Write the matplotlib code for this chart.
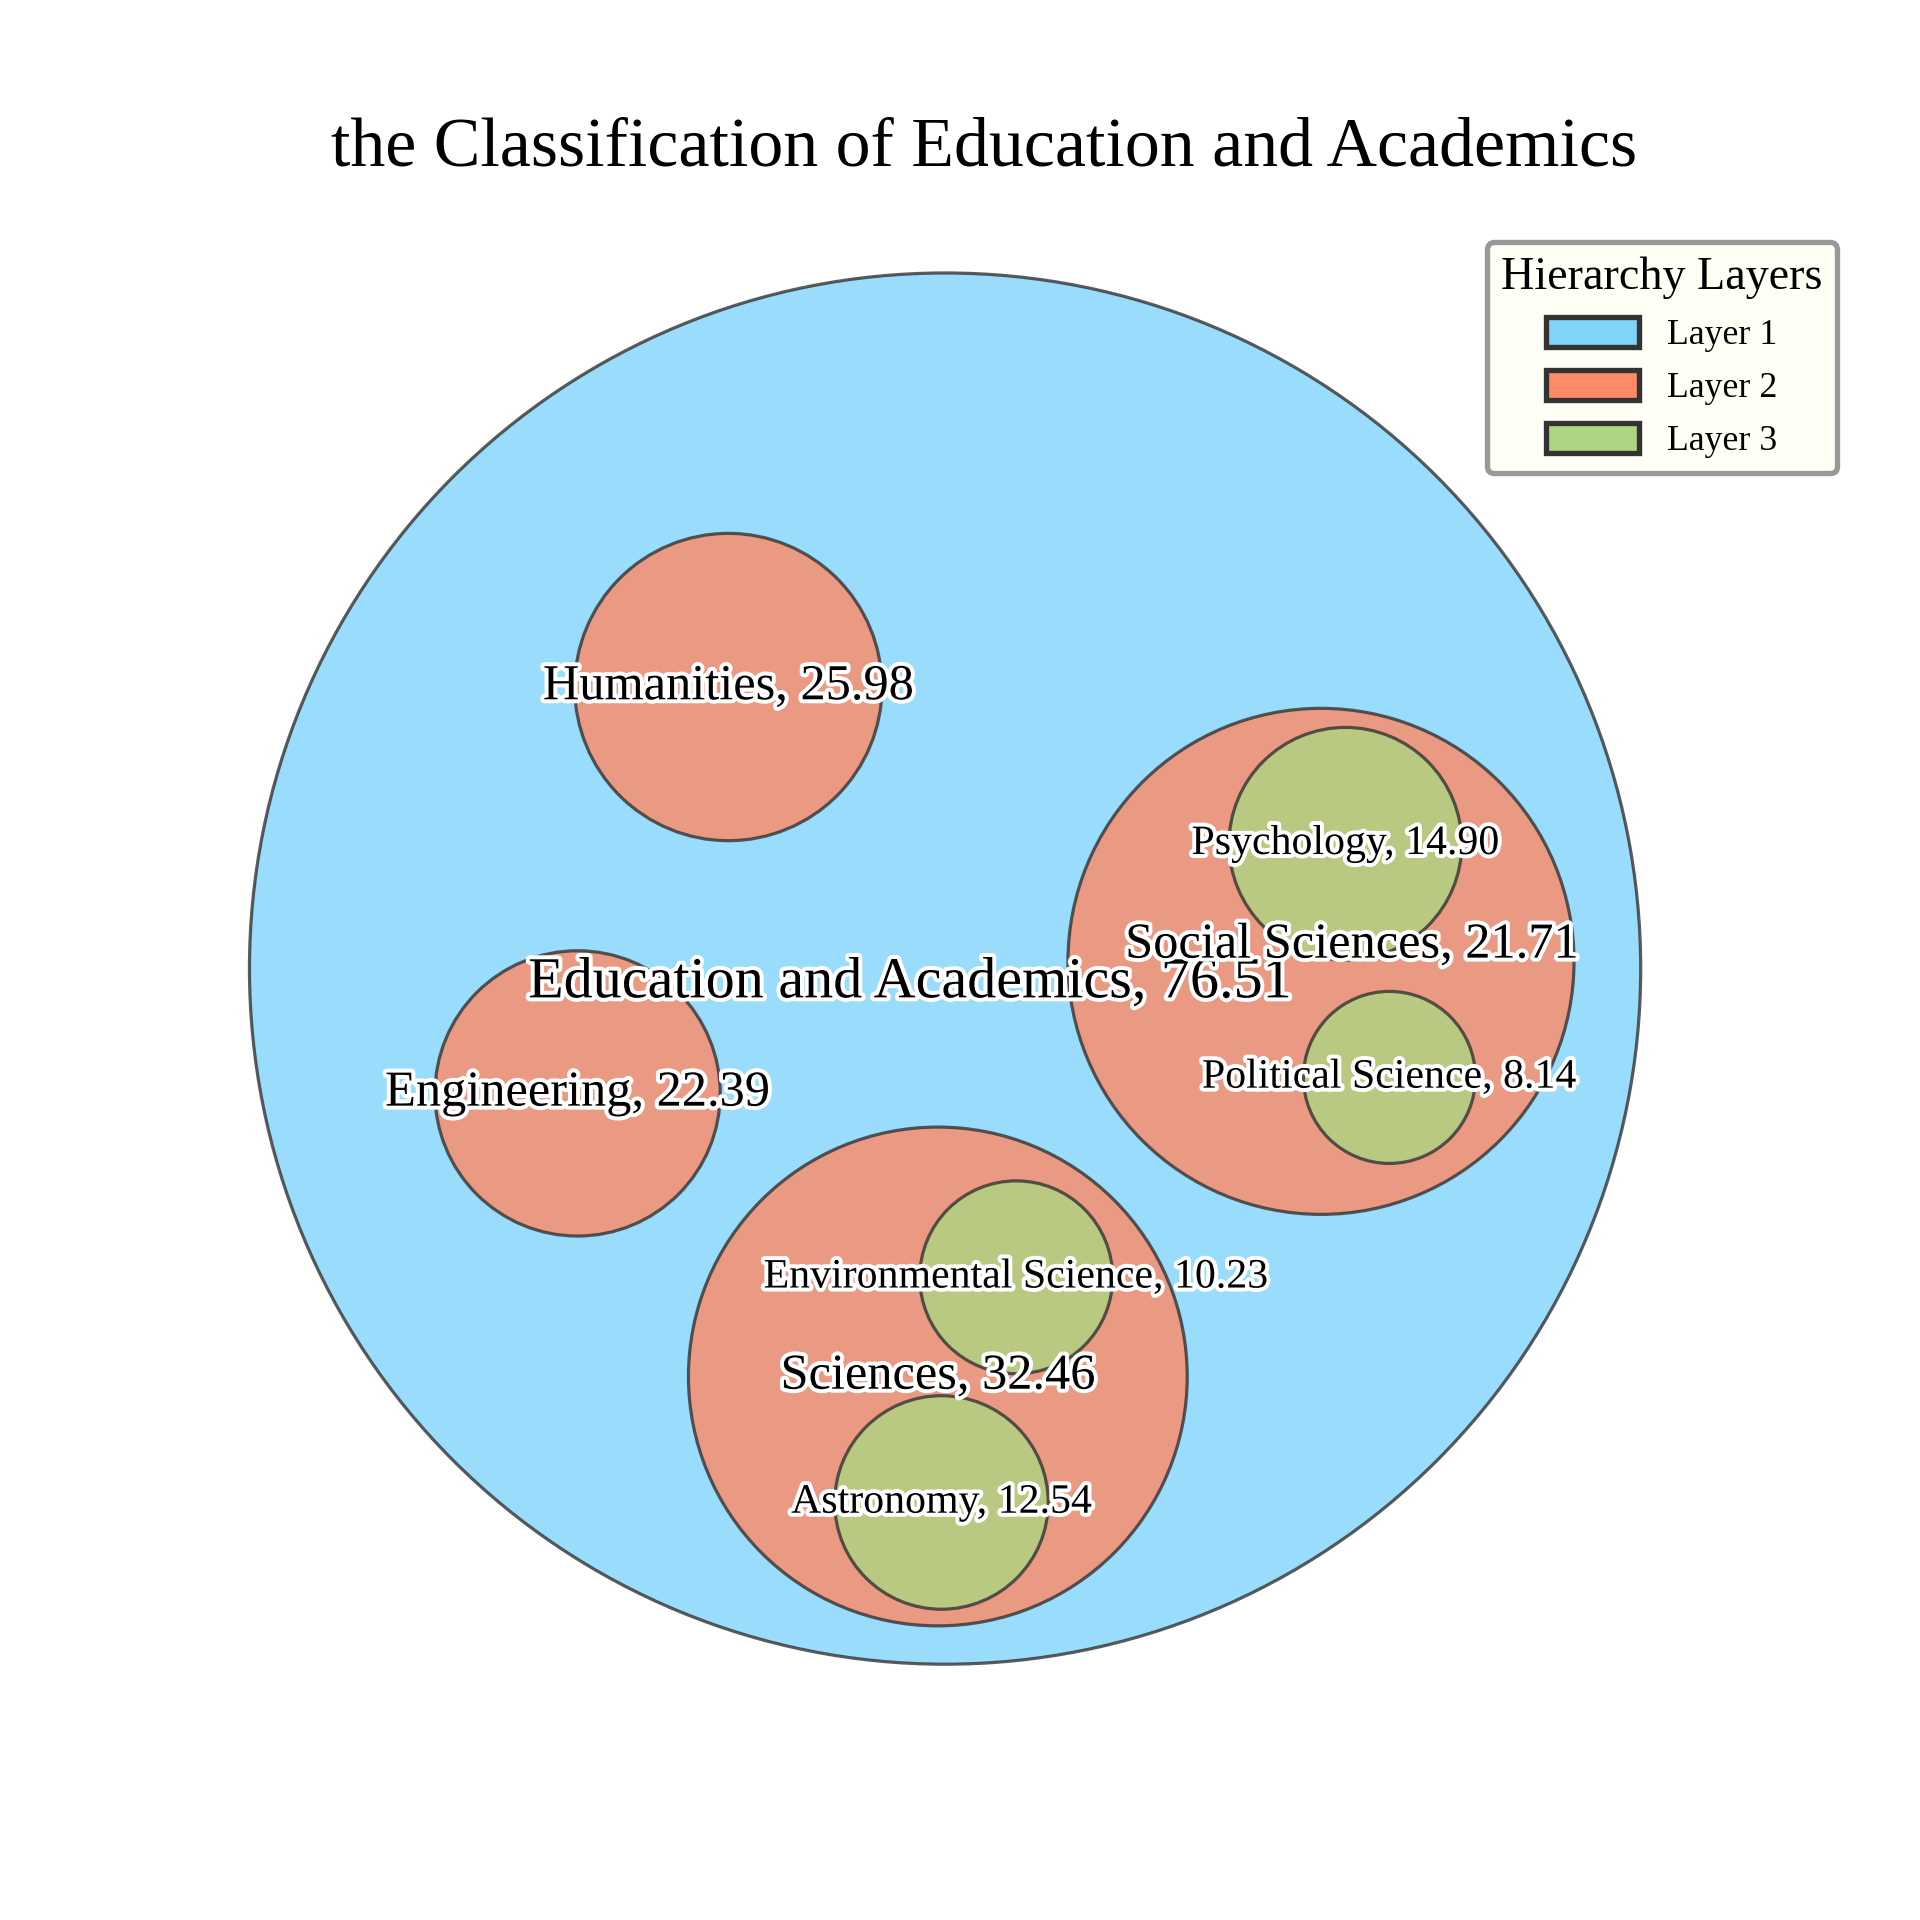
import numpy as np
import matplotlib.pyplot as plt
import matplotlib.patheffects as pe
from matplotlib.patches import Circle, Patch

plt.rcParams['font.family'] = ['Liberation Serif', 'DejaVu Serif']

# data
names = ['Education and Academics', 'Humanities', 'Social Sciences', 'Psychology',
         'Political Science', 'Engineering', 'Sciences', 'Environmental Science', 'Astronomy']
values = [76.51, 25.98, 21.71, 14.90, 8.14, 22.39, 32.46, 10.23, 12.54]
parents = [None, 0, 0, 2, 2, 0, 0, 6, 6]
layers = [1, 2, 2, 3, 3, 2, 2, 3, 3]

layer_colors = {1: '#81D4FA', 2: '#FF8A65', 3: '#AED581'}
label_sizes = {1: 21.8, 2: 18.9, 3: 15.7}

# layout (units of sqrt(value)): centres, packing pad, label nudges
centers = [(0, 0), (-7.19, 9.34), (12.47, 0.24), (13.28, 4.14), (14.74, -3.61),
           (-12.19, -4.14), (-0.24, -13.53), (2.36, -10.24), (-0.12, -17.71)]
pad = {1: 1.27, 2: 0.55}
label_shift = {0: (-1.16, -0.49), 2: (1.02, 0.53)}


def radius(i):
    kids = [j for j in range(len(names)) if parents[j] == i]
    if not kids:
        return np.sqrt(values[i])
    cx, cy = centers[i]
    ext = [np.hypot(centers[j][0] - cx, centers[j][1] - cy) + radius(j) for j in kids]
    return max(ext) + pad[layers[i]]


fig = plt.figure(figsize=(10, 10), dpi=192)
ax = fig.add_axes([0, 0, 1, 1])
ax.set_xlim(-31.35, 32.34)
ax.set_ylim(-31.56, 32.13)
ax.set_aspect('equal')
ax.axis('off')

for lay in [1, 2, 3]:
    for i in range(len(names)):
        if layers[i] != lay:
            continue
        c = Circle(centers[i], radius(i), facecolor=layer_colors[lay], edgecolor='#333333',
                   linewidth=1.2, alpha=0.8, zorder=lay)
        ax.add_patch(c)

for i in range(len(names)):
    dx, dy = label_shift.get(i, (0, 0))
    ax.text(centers[i][0] + dx, centers[i][1] + dy, f'{names[i]}, {values[i]:.2f}',
            ha='center', va='center', fontsize=label_sizes[layers[i]], zorder=10,
            path_effects=[pe.withStroke(linewidth=3, foreground='white')])

fig.text(0.5124, 0.9225, 'the Classification of Education and Academics',
         ha='center', va='center', fontsize=26.2)

handles = [Patch(facecolor=layer_colors[l], edgecolor='#333333', linewidth=2, label=f'Layer {l}')
           for l in [1, 2, 3]]
leg = fig.legend(handles=handles, title='Hierarchy Layers', loc='upper right',
                 bbox_to_anchor=(0.9566, 0.8737), borderaxespad=0, fontsize=13.4,
                 title_fontsize=17.3, facecolor='#FFFFF5', edgecolor='#999999', framealpha=1,
                 fancybox=True, handlelength=2.6, handleheight=0.9)
leg.get_frame().set_linewidth(2)

fig.savefig('out.png', dpi=192)
